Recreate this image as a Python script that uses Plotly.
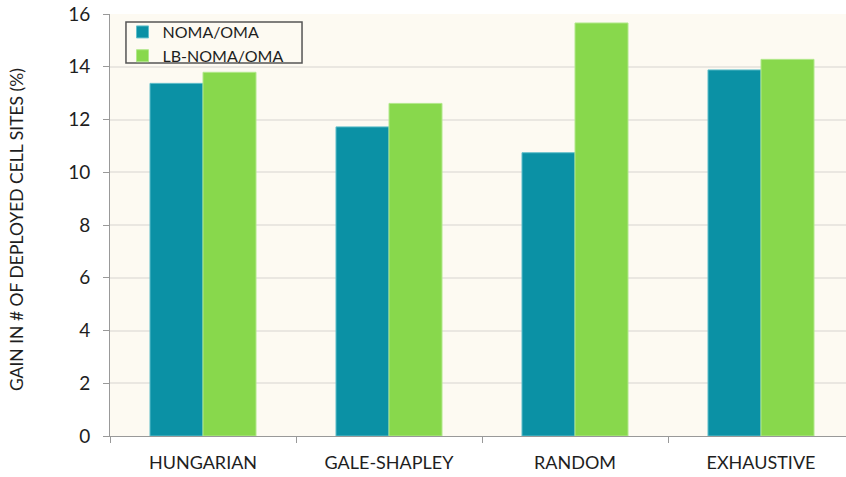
import plotly.graph_objects as go

categories = ["HUNGARIAN", "GALE-SHAPLEY", "RANDOM", "EXHAUSTIVE"]
noma_oma = [13.37, 11.72, 10.74, 13.88]
lb_noma_oma = [13.79, 12.61, 15.66, 14.28]
series_names = ["NOMA/OMA", "LB-NOMA/OMA"]
y_ticks = [0, 2, 4, 6, 8, 10, 12, 14, 16]

FONT = "Lato"
TXT = "#1E1E1E"

fig = go.Figure()
fig.add_trace(go.Bar(
    x=categories, y=noma_oma, name=series_names[0],
    marker=dict(color="#0B91A5", line=dict(color="#62BFCB", width=1)),
))
fig.add_trace(go.Bar(
    x=categories, y=lb_noma_oma, name=series_names[1],
    marker=dict(color="#88D84C", line=dict(color="#B2E88C", width=1)),
))

# legend frame (paper coords)
fig.add_shape(type="rect", xref="paper", yref="paper",
              x0=0.0217, x1=0.2609, y0=0.884, y1=0.981,
              line=dict(color="#555555", width=1.5), fillcolor="rgba(0,0,0,0)",
              layer="above")

# y-axis title
fig.add_annotation(text="GAIN IN # OF DEPLOYED CELL SITES (%)",
                   xref="paper", yref="paper", x=0, y=0.488,
                   xanchor="center", yanchor="middle", xshift=-94,
                   textangle=-90, showarrow=False,
                   font=dict(family=FONT, size=17.5, color=TXT))

fig.update_layout(
    width=846, height=477,
    margin=dict(l=110, r=0, t=14, b=41, autoexpand=False),
    paper_bgcolor="white",
    plot_bgcolor="#FDFAF2",
    barmode="group",
    bargap=0.43,
    bargroupgap=0,
    font=dict(family=FONT, size=17, color=TXT),
    showlegend=True,
    legend=dict(
        x=0.017, y=0.9976, xanchor="left", yanchor="top",
        bgcolor="rgba(0,0,0,0)", borderwidth=0,
        font=dict(family=FONT, size=16, color=TXT),
        tracegroupgap=0, itemwidth=30,
    ),
    xaxis=dict(
        type="category",
        range=[-0.5, 3.5 - 8 / 186],
        tickson="boundaries",
        ticks="outside", ticklen=6, tickcolor="#999999", tickwidth=1,
        showline=True, linecolor="#999999", linewidth=1,
        showgrid=False,
        tickfont=dict(family=FONT, size=18, color=TXT),
        ticklabelstandoff=10,
        automargin=False,
        fixedrange=True,
    ),
    yaxis=dict(
        range=[0, 16],
        tickvals=y_ticks,
        ticks="outside", ticklen=6, tickcolor="#999999", tickwidth=1,
        showline=True, linecolor="#999999", linewidth=1,
        showgrid=True, gridcolor="#EAE7E1", gridwidth=1.5,
        zeroline=False,
        tickfont=dict(family=FONT, size=19, color=TXT),
        ticklabelstandoff=9,
        automargin=False,
    ),
)

fig.write_html(
    "out.html",
    config={"displayModeBar": False},
    post_script="document.body.style.margin='0';document.body.style.overflow='hidden';",
)
